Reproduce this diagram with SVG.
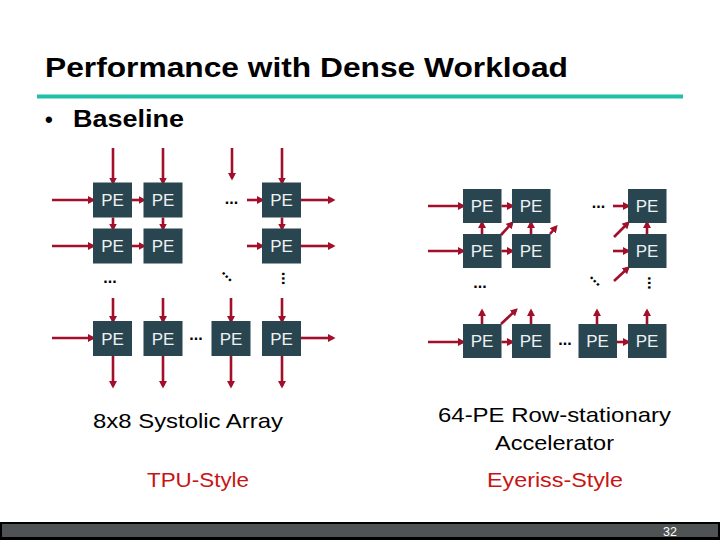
<svg xmlns="http://www.w3.org/2000/svg" width="720" height="540" viewBox="0 0 720 540">
<style>
.pe rect{fill:#294550}
.pe text{fill:#eef2f3;font-family:"Liberation Sans",Arial,sans-serif;font-size:17px;text-anchor:middle}
.arr{stroke:#a10f2b;stroke-width:2.6;fill:none;marker-end:url(#ah)}
.dots{font-family:"Liberation Sans",Arial,sans-serif;font-weight:bold;font-size:16px;text-anchor:middle;fill:#000}
.cap{font-family:"Liberation Sans",Arial,sans-serif;font-size:21px;fill:#000}
.red{fill:#c81414}
</style>
<defs>
<marker id="ah" markerUnits="userSpaceOnUse" markerWidth="8" markerHeight="9" refX="5" refY="4" orient="auto">
<path d="M0,0 L7.5,4 L0,8 z" fill="#a10f2b"/>
</marker>
</defs>
<rect width="720" height="540" fill="#fff"/>
<text x="45" y="77" font-family="'Liberation Sans',Arial,sans-serif" font-weight="bold" font-size="27" textLength="523" lengthAdjust="spacingAndGlyphs">Performance with Dense Workload</text>
<rect x="37" y="94.5" width="646" height="4" fill="#20c0a6"/>
<text x="45" y="127" font-family="'Liberation Sans',Arial,sans-serif" font-weight="bold" font-size="22">•</text>
<text x="73" y="127" font-family="'Liberation Sans',Arial,sans-serif" font-weight="bold" font-size="23" textLength="111" lengthAdjust="spacingAndGlyphs">Baseline</text>

<g id="connectors">
<!-- left: top inputs -->
<path class="arr" d="M113,148 V182.5"/>
<path class="arr" d="M163,148 V182.5"/>
<path class="arr" d="M232,148 V178"/>
<path class="arr" d="M282,148 V182.5"/>
<!-- left inputs -->
<path class="arr" d="M52,200 H93"/>
<path class="arr" d="M52,246 H93"/>
<path class="arr" d="M52,338 H93"/>
<!-- row1 -->
<path class="arr" d="M132,200 H143.5"/>
<path class="arr" d="M247,200 H262"/>
<path class="arr" d="M301,200 H333"/>
<!-- row2 -->
<path class="arr" d="M132,246 H143.5"/>
<path class="arr" d="M247,246 H262"/>
<path class="arr" d="M301,246 H333"/>
<!-- row1 to row2 -->
<path class="arr" d="M113,217.5 V228.5"/>
<path class="arr" d="M163,217.5 V228.5"/>
<path class="arr" d="M282,217.5 V228.5"/>
<!-- into row3 -->
<path class="arr" d="M113,298 V321"/>
<path class="arr" d="M163,298 V321"/>
<path class="arr" d="M231,298 V321"/>
<path class="arr" d="M282,298 V321"/>
<path class="arr" d="M301,338 H333"/>
<!-- outputs -->
<path class="arr" d="M113,356 V386"/>
<path class="arr" d="M163,356 V386"/>
<path class="arr" d="M231,356 V386"/>
<path class="arr" d="M282,356 V386"/>

<!-- right diagram -->
<path class="arr" d="M428,206 H463"/>
<path class="arr" d="M428,251 H463"/>
<path class="arr" d="M428,342 H463"/>
<path class="arr" d="M501.5,206 H512"/>
<path class="arr" d="M613,206 H628"/>
<path class="arr" d="M501.5,251 H512"/>
<path class="arr" d="M613,251 H628"/>
<path class="arr" d="M482,234 V223"/>
<path class="arr" d="M531,234 V223"/>
<path class="arr" d="M647,234 V223"/>
<path class="arr" d="M501,235 L512,223"/>
<path class="arr" d="M550,234 L556,227"/>
<path class="arr" d="M614,237 L628,223"/>
<path class="arr" d="M614,281 L628,268"/>
<path class="arr" d="M482,324 V311"/>
<path class="arr" d="M531,324 V311"/>
<path class="arr" d="M597,324 V311"/>
<path class="arr" d="M647,324 V311"/>
<path class="arr" d="M501,324 L516,310"/>
<path class="arr" d="M501.5,342 H512"/>
<path class="arr" d="M617,342 H628"/>
</g>

<g id="left-array">
<g id="L11" class="pe"><rect x="93" y="182.5" width="39" height="35"/><text x="112.5" y="206">PE</text></g>
<g id="L12" class="pe"><rect x="143.5" y="182.5" width="39" height="35"/><text x="163" y="206">PE</text></g>
<g id="L18" class="pe"><rect x="262" y="182.5" width="39" height="35"/><text x="281.5" y="206">PE</text></g>
<g id="L21" class="pe"><rect x="93" y="228.5" width="39" height="35"/><text x="112.5" y="252">PE</text></g>
<g id="L22" class="pe"><rect x="143.5" y="228.5" width="39" height="35"/><text x="163" y="252">PE</text></g>
<g id="L28" class="pe"><rect x="262" y="228.5" width="39" height="35"/><text x="281.5" y="252">PE</text></g>
<g id="L81" class="pe"><rect x="93" y="321" width="39" height="35"/><text x="112.5" y="344.5">PE</text></g>
<g id="L82" class="pe"><rect x="143.5" y="321" width="39" height="35"/><text x="163" y="344.5">PE</text></g>
<g id="L87" class="pe"><rect x="211.5" y="321" width="39" height="35"/><text x="231" y="344.5">PE</text></g>
<g id="L88" class="pe"><rect x="262" y="321" width="39" height="35"/><text x="281.5" y="344.5">PE</text></g>
<text class="dots" x="231.5" y="204">...</text>
<text class="dots" x="110" y="283">...</text>
<text class="dots" x="196" y="340">...</text>
<text class="dots" transform="translate(227,276.5) rotate(45)" x="0" y="1.5">...</text>
<text class="dots" transform="translate(283,278.5) rotate(90)" x="0" y="1.5">...</text>
</g>

<g id="right-array">
<g id="R11" class="pe"><rect x="463" y="189" width="38.5" height="34"/><text x="482" y="212">PE</text></g>
<g id="R12" class="pe"><rect x="512" y="189" width="38.5" height="34"/><text x="531" y="212">PE</text></g>
<g id="R18" class="pe"><rect x="628" y="189" width="38.5" height="34"/><text x="647" y="212">PE</text></g>
<g id="R21" class="pe"><rect x="463" y="234" width="38.5" height="34"/><text x="482" y="257">PE</text></g>
<g id="R22" class="pe"><rect x="512" y="234" width="38.5" height="34"/><text x="531" y="257">PE</text></g>
<g id="R28" class="pe"><rect x="628" y="234" width="38.5" height="34"/><text x="647" y="257">PE</text></g>
<g id="R81" class="pe"><rect x="463" y="324" width="38.5" height="34"/><text x="482" y="347">PE</text></g>
<g id="R82" class="pe"><rect x="512" y="324" width="38.5" height="34"/><text x="531" y="347">PE</text></g>
<g id="R87" class="pe"><rect x="578.5" y="324" width="38.5" height="34"/><text x="597.5" y="347">PE</text></g>
<g id="R88" class="pe"><rect x="628" y="324" width="38.5" height="34"/><text x="647" y="347">PE</text></g>
<text class="dots" x="598.5" y="208">...</text>
<text class="dots" x="480" y="288">...</text>
<text class="dots" x="565" y="345">...</text>
<text class="dots" transform="translate(595,281) rotate(45)" x="0" y="1.5">...</text>
<text class="dots" transform="translate(649,283) rotate(90)" x="0" y="1.5">...</text>
</g>

<text class="cap" x="93" y="428" textLength="190" lengthAdjust="spacingAndGlyphs">8x8 Systolic Array</text>
<text class="cap red" x="147" y="487" textLength="102" lengthAdjust="spacingAndGlyphs">TPU-Style</text>
<text class="cap" x="438" y="422" textLength="233" lengthAdjust="spacingAndGlyphs">64-PE Row-stationary</text>
<text class="cap" x="495" y="449.5" textLength="119" lengthAdjust="spacingAndGlyphs">Accelerator</text>
<text class="cap red" x="487" y="487" textLength="136" lengthAdjust="spacingAndGlyphs">Eyeriss-Style</text>

<rect x="0" y="522" width="720" height="18" fill="#000"/>
<rect x="2" y="524" width="716" height="13" fill="#4f5354"/>
<text x="670" y="536" font-family="'Liberation Sans',Arial,sans-serif" font-size="12.5" fill="#fff" text-anchor="middle">32</text>
</svg>
